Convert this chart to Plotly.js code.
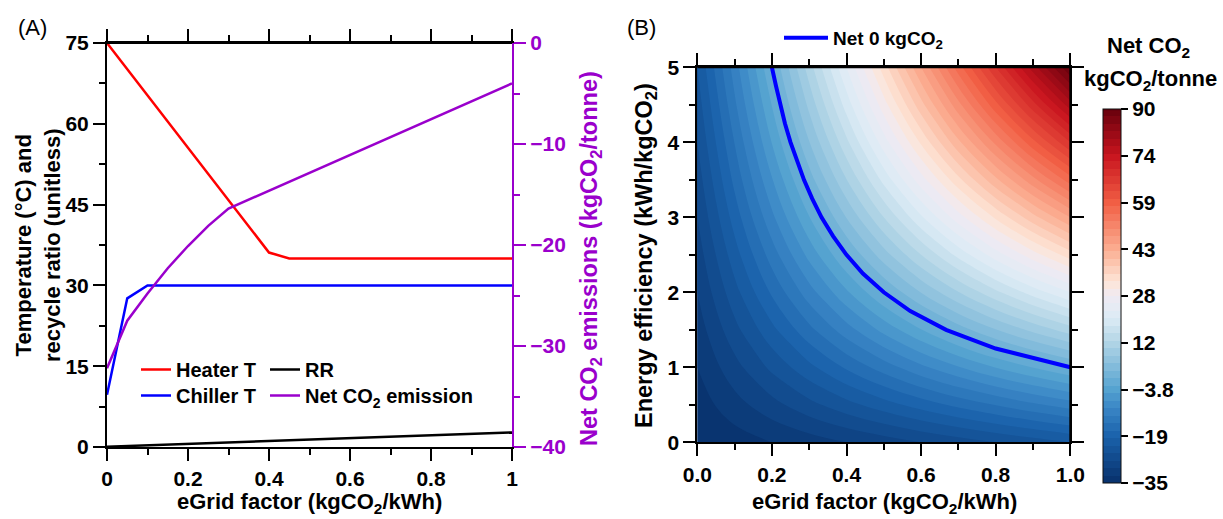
<!DOCTYPE html>
<html><head><meta charset="utf-8">
<script src="https://cdn.plot.ly/plotly-3.0.1.min.js"></script>
<style>html,body{margin:0;padding:0;background:#fff}#chart{width:1223px;height:519px}</style>
</head><body><div id="chart"></div>
<script>
// ---------- Panel A data ----------
const heaterX = [0, 0.4, 0.45, 1];
const heaterT = [75, 36.1, 35, 35];
const chillerX = [0, 0.05, 0.1, 1];
const chillerT = [9.7, 27.6, 30, 30];
const rrX = [0, 1];
const rrVal = [0.05, 2.7];
const netX = [0, 0.05, 0.1, 0.15, 0.2, 0.25, 0.3, 1];
const netCO2 = [-32.2, -27.5, -24.8, -22.3, -20.1, -18.1, -16.4, -4.0];

// ---------- Panel B data ----------
const egridGrid = [0, 0.1, 0.2, 0.3, 0.4, 0.5, 0.6, 0.7, 0.8, 0.9, 1.0];
const effGrid = [0, 0.5, 1, 1.5, 2, 2.5, 3, 3.5, 4, 4.5, 5];
const netGrid = [
  [-35.0,-33.8,-32.5,-31.3,-30.0,-28.8,-27.5,-26.3,-25.0,-23.8,-22.5],
  [-33.8,-31.0,-28.4,-25.8,-23.4,-21.1,-18.9,-16.8,-14.9,-13.0,-11.3],
  [-32.5,-28.4,-24.4,-20.7,-17.1,-13.8,-10.6,-7.7,-4.9,-2.4,0.0],
  [-31.3,-25.8,-20.7,-15.7,-11.1,-6.7,-2.6,1.3,4.9,8.2,11.3],
  [-30.0,-23.4,-17.1,-11.1,-5.4,0.0,5.1,9.9,14.4,18.6,22.5],
  [-28.8,-21.1,-13.8,-6.7,0.0,6.4,12.5,18.3,23.8,28.9,33.8],
  [-27.5,-18.9,-10.6,-2.6,5.1,12.5,19.6,26.4,32.9,39.1,45.0],
  [-26.3,-16.8,-7.7,1.3,9.9,18.3,26.4,34.3,41.9,49.2,56.3],
  [-25.0,-14.9,-4.9,4.9,14.4,23.8,32.9,41.9,50.6,59.2,67.5],
  [-23.8,-13.0,-2.4,8.2,18.6,28.9,39.1,49.2,59.2,69.0,78.8],
  [-22.5,-11.3,0.0,11.3,22.5,33.8,45.0,56.3,67.5,78.8,90.0]
];
const netZeroX = [1.0, 0.8, 0.667, 0.571, 0.5, 0.444, 0.4, 0.364, 0.333, 0.308, 0.286, 0.267, 0.25, 0.235, 0.222, 0.211, 0.2];
const netZeroY = [1.0, 1.25, 1.5, 1.75, 2.0, 2.25, 2.5, 2.75, 3.0, 3.25, 3.5, 3.75, 4.0, 4.25, 4.5, 4.75, 5.0];
const cbTickVals = [90, 74.375, 58.75, 43.125, 27.5, 11.875, -3.75, -19.375, -35];
const cbTickText = ['90', '74', '59', '43', '28', '12', '\u22123.8', '\u221219', '\u221235'];

// ---------- geometry helpers ----------
const W = 1223, H = 519;
const px = v => v / W;
const py = v => 1 - v / H;
const PURPLE = '#9a00cc';
const FONT = 'Liberation Sans, Arial, Helvetica, sans-serif';
const bold = (s, c) => ({family: FONT, size: s, color: c || '#000', weight: 'bold'});
const minorTicks = (d, c) => ({tick0: 0, dtick: d, ticks: 'outside', ticklen: 6, tickwidth: 2, tickcolor: c || '#000', showgrid: false});

const tickCommon = {
  ticks: 'outside', ticklen: 12, tickwidth: 2, tickcolor: '#000',
  showline: true, linewidth: 2, linecolor: '#000',
  showgrid: false, zeroline: false, tickfont: bold(21)
};

const traces = [
  {x: heaterX, y: heaterT, type: 'scatter', mode: 'lines', name: 'Heater T',
   line: {color: '#ff0000', width: 2.5}, xaxis: 'x', yaxis: 'y', legend: 'legend'},
  {x: rrX, y: rrVal, type: 'scatter', mode: 'lines', name: 'RR',
   line: {color: '#000000', width: 2.5}, xaxis: 'x', yaxis: 'y', legend: 'legend2'},
  {x: chillerX, y: chillerT, type: 'scatter', mode: 'lines', name: 'Chiller T',
   line: {color: '#0000ff', width: 2.5}, xaxis: 'x', yaxis: 'y', legend: 'legend3'},
  {x: netX, y: netCO2, type: 'scatter', mode: 'lines', name: 'Net CO<sub>2</sub> emission',
   line: {color: PURPLE, width: 2.5}, xaxis: 'x', yaxis: 'y2', legend: 'legend4'},
  {x: egridGrid, y: effGrid, z: netGrid, type: 'contour', xaxis: 'x2', yaxis: 'y3',
   showlegend: false, autocontour: false,
   contours: {start: -35, end: 90, size: 2.5, coloring: 'fill', showlines: false},
   line: {width: 0, smoothing: 1},
   zmin: -35, zmax: 90,
   colorscale: [[0,'#08306b'],[0.125,'#1a62ab'],[0.2,'#3a86c6'],[0.25,'#55a3d0'],[0.375,'#b2d5e6'],
                [0.44,'#dcebf5'],[0.5,'#efeaf3'],[0.54,'#fde4d6'],[0.625,'#fbad91'],[0.75,'#f15e44'],
                [0.875,'#c8141e'],[1,'#67000d']],
   colorbar: {x: px(1103), xanchor: 'left', y: py(296), yanchor: 'middle',
     len: 374, lenmode: 'pixels', thickness: 18, thicknessmode: 'pixels',
     xpad: 0, ypad: 0, outlinewidth: 1, outlinecolor: '#111',
     tickmode: 'array', tickvals: cbTickVals, ticktext: cbTickText,
     ticks: 'outside', ticklen: 7, tickwidth: 2, tickcolor: '#000', tickfont: bold(21)}},
  {x: netZeroX, y: netZeroY, type: 'scatter', mode: 'lines', name: 'Net 0 kgCO<sub>2</sub>',
   line: {color: '#0000ff', width: 4}, xaxis: 'x2', yaxis: 'y3', legend: 'legend5'}
];

const legendBase = (x, yc, size) => ({
  x: px(x), y: py(yc - 16), xanchor: 'left', yanchor: 'top', xref: 'paper', yref: 'paper',
  bgcolor: 'rgba(0,0,0,0)', borderwidth: 0, font: bold(size || 20), itemwidth: 30
});

const frameLine = (xr, yr, x0, y0, x1, y1) => ({type: 'line', xref: xr, yref: yr, x0: x0, y0: y0, x1: x1, y1: y1,
  line: {color: '#000', width: 2}, layer: 'above'});

const layout = {
  width: W, height: H, margin: {l: 0, r: 0, t: 0, b: 0},
  paper_bgcolor: '#fff', plot_bgcolor: '#fff',
  font: {family: FONT, color: '#000'},
  showlegend: true,
  xaxis: Object.assign({}, tickCommon, {domain: [px(107), px(512)], anchor: 'y', range: [0, 1],
    tick0: 0, dtick: 0.2, mirror: 'ticks', minor: minorTicks(0.1)}),
  yaxis: Object.assign({}, tickCommon, {domain: [py(447), py(43)], anchor: 'x', range: [0, 75],
    tick0: 0, dtick: 15, mirror: false, minor: minorTicks(7.5)}),
  yaxis2: {overlaying: 'y', side: 'right', anchor: 'x', range: [-40, 0], tick0: 0, dtick: 10,
    ticks: 'outside', ticklen: 12, tickwidth: 2, tickcolor: PURPLE,
    showline: true, linewidth: 2, linecolor: PURPLE, showgrid: false, zeroline: false,
    tickfont: bold(21, PURPLE), minor: minorTicks(5, PURPLE)},
  xaxis2: Object.assign({}, tickCommon, {domain: [px(697.3), px(1070.3)], anchor: 'y3', range: [0, 1],
    tick0: 0, dtick: 0.2, tickformat: '.1f', mirror: 'ticks', minor: minorTicks(0.1)}),
  yaxis3: Object.assign({}, tickCommon, {domain: [py(442.3), py(67.3)], anchor: 'x2', range: [0, 5],
    tick0: 0, dtick: 1, mirror: 'ticks', minor: minorTicks(0.5)}),
  legend: legendBase(136, 366),
  legend2: legendBase(265, 366),
  legend3: legendBase(136, 392),
  legend4: legendBase(265, 392),
  legend5: Object.assign(legendBase(779, 35, 19), {itemwidth: 44}),
  shapes: [
    frameLine('x domain', 'y domain', 0, 1, 1, 1),
    frameLine('x2 domain', 'y3 domain', 0, 1, 1, 1),
    frameLine('x2 domain', 'y3 domain', 1, 0, 1, 1)
  ],
  annotations: [
    {text: '(A)', x: px(16), y: py(27), xref: 'paper', yref: 'paper', xanchor: 'left', yanchor: 'middle',
     showarrow: false, font: {family: FONT, size: 22, color: '#000'}},
    {text: '(B)', x: px(625), y: py(27), xref: 'paper', yref: 'paper', xanchor: 'left', yanchor: 'middle',
     showarrow: false, font: {family: FONT, size: 22, color: '#000'}},
    {text: 'eGrid factor (kgCO<sub>2</sub>/kWh)', x: px(309.5), y: py(503), xref: 'paper', yref: 'paper',
     xanchor: 'center', yanchor: 'middle', showarrow: false, font: bold(22)},
    {text: 'eGrid factor (kgCO<sub>2</sub>/kWh)', x: px(884), y: py(503), xref: 'paper', yref: 'paper',
     xanchor: 'center', yanchor: 'middle', showarrow: false, font: bold(22)},
    {text: 'Temperature (°C) and<br>recycle ratio (unitless)', x: px(38), y: py(245), xref: 'paper', yref: 'paper',
     xanchor: 'center', yanchor: 'middle', textangle: -90, showarrow: false, font: bold(22)},
    {text: 'Net CO<sub>2</sub> emissions (kgCO<sub>2</sub>/tonne)', x: px(590), y: py(259), xref: 'paper', yref: 'paper',
     xanchor: 'center', yanchor: 'middle', textangle: -90, showarrow: false, font: bold(23.5, PURPLE)},
    {text: 'Energy efficiency (kWh/kgCO<sub>2</sub>)', x: px(645), y: py(255), xref: 'paper', yref: 'paper',
     xanchor: 'center', yanchor: 'middle', textangle: -90, showarrow: false, font: bold(23.5)},
    {text: 'Net CO<sub>2</sub>', x: px(1148), y: py(47), xref: 'paper', yref: 'paper',
     xanchor: 'center', yanchor: 'middle', showarrow: false, font: bold(22)},
    {text: 'kgCO<sub>2</sub>/tonne', x: px(1150), y: py(80), xref: 'paper', yref: 'paper',
     xanchor: 'center', yanchor: 'middle', showarrow: false, font: bold(22)}
  ]
};

Plotly.newPlot('chart', traces, layout, {displayModeBar: false, staticPlot: true});
</script></body></html>
